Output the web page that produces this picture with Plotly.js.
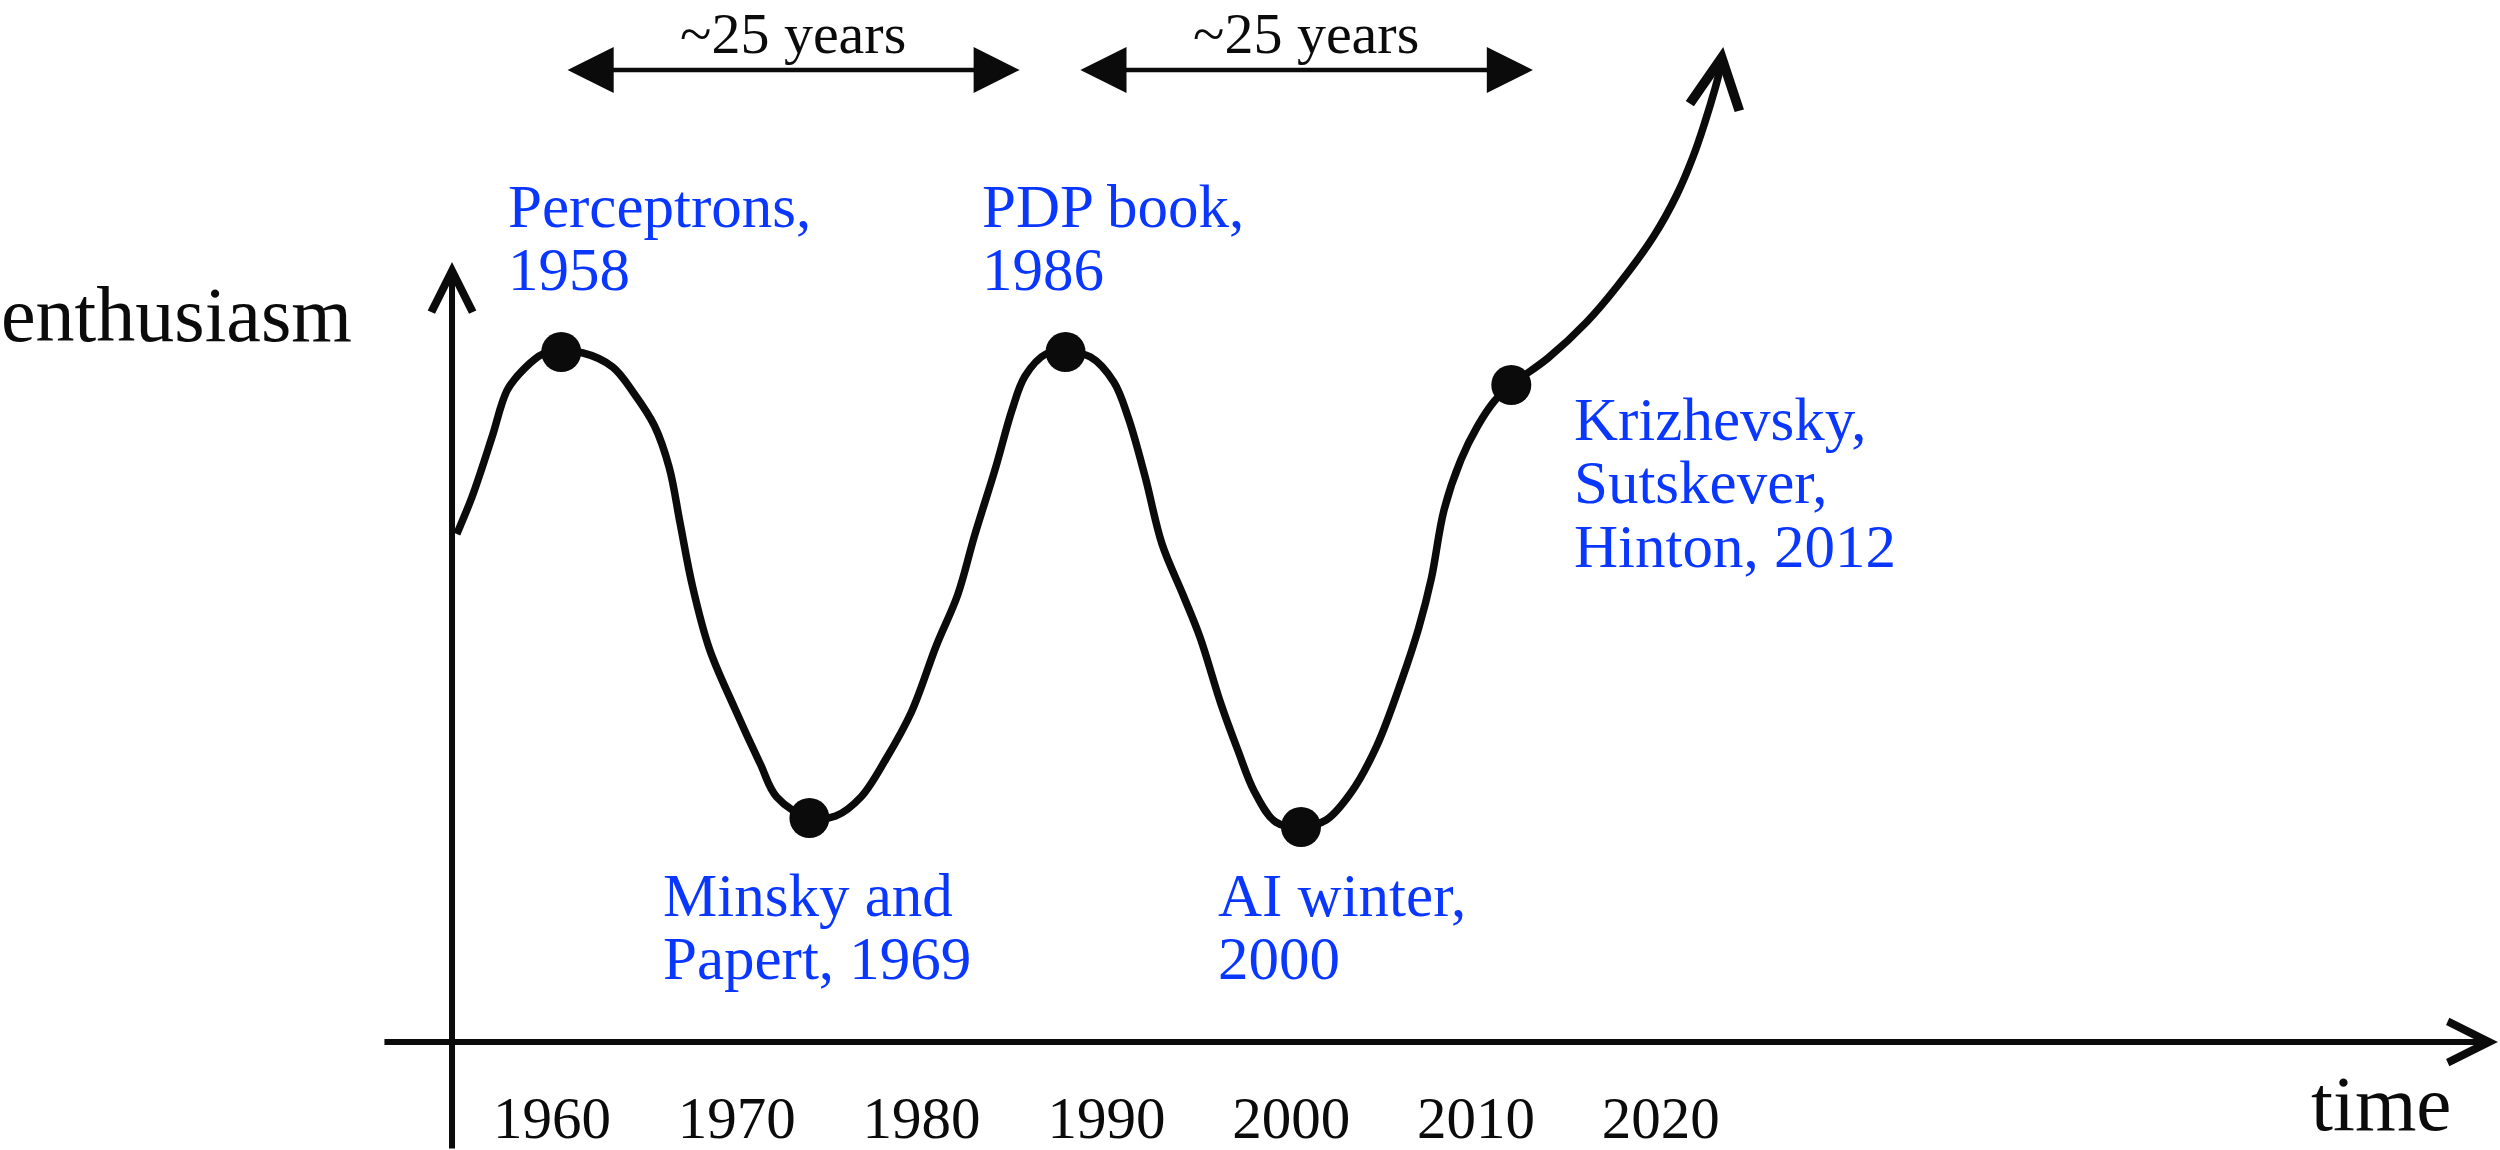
<!DOCTYPE html>
<html>
<head>
<meta charset="utf-8">
<script src="https://cdn.plot.ly/plotly-3.0.1.min.js"></script>
<style>
html, body { margin: 0; padding: 0; background: #ffffff; }
#chart { width: 2500px; height: 1150px; }
</style>
</head>
<body>
<div id="chart"></div>
<script>
// ---- data ----
// hand-drawn enthusiasm curve (x = year on the time axis, y = enthusiasm)
const curveYears = [1954.85, 1955.65, 1956.21, 1956.79, 1957.58, 1958.48, 1959.51, 1960.50, 1961.68, 1963.28,
  1964.42, 1965.55, 1966.35, 1966.93, 1967.60, 1968.52, 1969.88, 1971.25, 1972.16, 1973.93,
  1975.35, 1976.72, 1978.07, 1979.45, 1980.81, 1981.95, 1982.86, 1984.00, 1984.91, 1985.60,
  1986.73, 1987.79, 1989.14, 1990.40, 1991.19, 1992.10, 1993.01, 1994.15, 1995.06, 1996.20,
  1997.11, 1998.02, 1999.16, 2000.53, 2001.89, 2003.26, 2004.63, 2006.00, 2006.90, 2007.59,
  2008.27, 2009.18, 2010.09, 2011.00, 2011.91, 2013.90, 2015.99, 2017.61, 2019.59, 2020.86,
  2021.76, 2022.39, 2022.93, 2023.20];
const curveValues = [5.08, 5.44, 5.74, 6.07, 6.52, 6.73, 6.88, 6.90, 6.89, 6.75,
  6.49, 6.16, 5.74, 5.19, 4.56, 3.93, 3.34, 2.79, 2.45, 2.24,
  2.26, 2.45, 2.83, 3.30, 3.97, 4.47, 5.06, 5.74, 6.33, 6.66,
  6.88, 6.90, 6.85, 6.60, 6.24, 5.65, 4.98, 4.47, 4.05, 3.38,
  2.92, 2.50, 2.20, 2.15, 2.22, 2.50, 2.96, 3.63, 4.14, 4.64,
  5.32, 5.82, 6.16, 6.41, 6.57, 6.84, 7.20, 7.55, 8.05, 8.47,
  8.86, 9.20, 9.53, 9.72];
// tip of the arrow that ends the curve
const curveTipYear = 2023.38;
const curveTipValue = 9.95;

// milestones (dots)
const milestoneYears  = [1960.50, 1973.93, 1987.79, 2000.53, 2011.91];
const milestoneValues = [6.90, 2.24, 6.90, 2.15, 6.57];
const milestoneLabels = ["Perceptrons,\n1958", "Minsky and\nPapert, 1969", "PDP book,\n1986",
  "AI winter,\n2000", "Krizhevsky,\nSutskever,\nHinton, 2012"];

// time axis ticks
const tickYears  = [1960, 1970, 1980, 1990, 2000, 2010, 2020];
const tickLabels = ["1960", "1970", "1980", "1990", "2000", "2010", "2020"];

// "~25 years" spans
const spanStarts = [1960.76, 1988.51];
const spanEnds   = [1985.31, 2013.08];
const spanText   = "~25 years";

const xTitle = "time";
const yTitle = "enthusiasm";

// ---- layout / style (not data) ----
const FONT = "Liberation Serif, Times New Roman, serif";
const INK = "#0a0b0a";
const BLUE = "#0a37ff";
const labelAnchors = [[1957.56, 8.36], [1965.95, 1.47], [1983.21, 8.36], [1995.98, 1.47], [2015.25, 6.23]];
const labelLineStep = 0.635;
const spanLevel = 9.72;
const spanTextLevel = 10.09;

const traces = [
  {
    x: curveYears, y: curveValues, type: "scatter", mode: "lines",
    line: { color: INK, width: 7.5, shape: "spline", smoothing: 1.0 },
    hoverinfo: "skip", showlegend: false
  },
  {
    x: milestoneYears, y: milestoneValues, type: "scatter", mode: "markers",
    marker: { color: INK, size: 40, line: { width: 0 } },
    hoverinfo: "skip", showlegend: false
  }
];

const annotations = [];

// axis arrows
annotations.push({
  x: 2065.30, y: 0, xref: "x", yref: "y", ax: -2115, ay: 0,
  showarrow: true, arrowhead: 5, arrowwidth: 6, arrowsize: 1.35, arrowcolor: INK, text: "", standoff: 0
});
annotations.push({
  x: 1954.59, y: 7.80, xref: "x", yref: "y", ax: 0, ay: 900,
  showarrow: true, arrowhead: 5, arrowwidth: 6, arrowsize: 1.35, arrowcolor: INK, text: "", standoff: 0
});

// curve-end arrow
annotations.push({
  x: curveTipYear, y: curveTipValue, xref: "x", yref: "y",
  ax: curveYears[curveYears.length - 1], ay: curveValues[curveValues.length - 1],
  axref: "x", ayref: "y",
  showarrow: true, arrowhead: 5, arrowwidth: 7, arrowsize: 1.4, arrowcolor: INK, text: "", standoff: 0
});

// span arrows + text
for (let i = 0; i < spanStarts.length; i++) {
  annotations.push({
    x: spanEnds[i], y: spanLevel, xref: "x", yref: "y",
    ax: spanStarts[i], ay: spanLevel, axref: "x", ayref: "y",
    showarrow: true, arrowhead: 2, startarrowhead: 2, arrowside: "end+start",
    arrowwidth: 4.5, arrowsize: 2.05, startarrowsize: 2.05, arrowcolor: INK, text: "", standoff: 0, startstandoff: 0
  });
  annotations.push({
    x: (spanStarts[i] + spanEnds[i]) / 2, y: spanTextLevel, xref: "x", yref: "y",
    text: spanText, showarrow: false, xanchor: "center", yanchor: "middle",
    font: { family: FONT, size: 58, color: INK }, borderpad: 0
  });
}

// milestone labels (one annotation per line for tight line spacing)
milestoneLabels.forEach(function (lbl, i) {
  lbl.split("\n").forEach(function (line, j) {
    annotations.push({
      x: labelAnchors[i][0], y: labelAnchors[i][1] - j * labelLineStep, xref: "x", yref: "y",
      text: line, showarrow: false, xanchor: "left", yanchor: "middle",
      font: { family: FONT, size: 61, color: BLUE }, borderpad: 0
    });
  });
});

// axis titles
annotations.push({
  x: 1930.13, y: 7.28, xref: "x", yref: "y", text: yTitle, showarrow: false,
  xanchor: "left", yanchor: "middle", font: { family: FONT, size: 78, color: INK }, borderpad: 0
});
annotations.push({
  x: 0.924, y: -0.0241, xref: "paper", yref: "paper", text: xTitle, showarrow: false,
  xanchor: "left", yanchor: "middle", font: { family: FONT, size: 79, color: INK }, borderpad: 0
});

const layout = {
  width: 2500, height: 1150,
  margin: { l: 0, r: 0, t: 0, b: 72, pad: 0 },
  paper_bgcolor: "#ffffff", plot_bgcolor: "rgba(0,0,0,0)",
  font: { family: FONT, color: INK },
  showlegend: false,
  xaxis: {
    range: [1930.13, 2065.412], showgrid: false, zeroline: false, showline: false,
    ticks: "", tickmode: "array", tickvals: tickYears, ticktext: tickLabels,
    tickfont: { family: FONT, size: 59, color: INK }, fixedrange: true
  },
  yaxis: {
    range: [-0.36, 10.42], showgrid: false, zeroline: false, showline: false,
    showticklabels: false, ticks: "", fixedrange: true
  },
  annotations: annotations
};

Plotly.newPlot("chart", traces, layout, { displayModeBar: false, staticPlot: true });
</script>
</body>
</html>
